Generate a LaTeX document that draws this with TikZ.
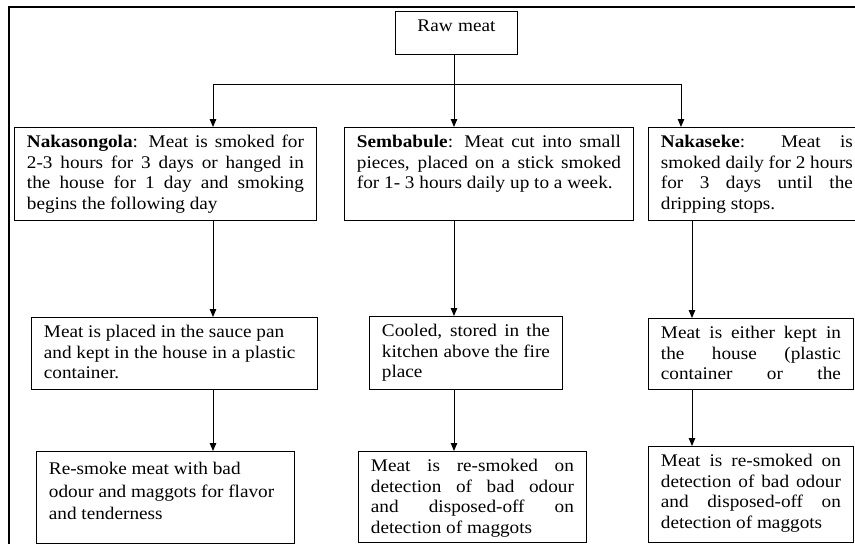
\documentclass[tikz,border=0pt]{standalone}
\usepackage{fontspec}
\setmainfont{Liberation Serif}[FakeStretch=1.08]
\usetikzlibrary{arrows.meta}
\newcommand{\fullline}[1]{\makebox[\linewidth][s]{#1}}

\begin{document}
\begin{tikzpicture}[
      x=1pt, y=-1pt,
      box/.style={rectangle, draw=black, line width=0.9pt, anchor=north west, inner xsep=12.5pt, inner ysep=5pt, text height=15.5pt, align=left, font=\fontsize{17.8}{20.5}\selectfont, execute at begin node={\spaceskip=0pt\xspaceskip=0pt}},
      loose/.style={font=\fontsize{17.8}{22.7}\selectfont, text height=18pt},
      arrow/.style={-{Triangle[length=8pt, width=6.5pt]}, line width=1pt, black},
      frame/.style={line width=2.4pt, black}
    ]
    \useasboundingbox (0,0) rectangle (855,544);
    \draw[frame] (9,560) |- (870,7);

    \node[box, align=center, text width=97pt, text depth=17.5pt] (raw) at (395,11) {Raw meat};

    \node[box, text width=277pt, text depth=67.5pt] (A1) at (14,127) {\fullline{\textbf{Nakasongola}: Meat is smoked for}\\\fullline{2-3 hours for 3 days or hanged in}\\\fullline{the house for 1 day and smoking}\\begins the following day};
    \node[box, text width=264pt, text depth=67.5pt] (B1) at (344,127) {\fullline{\textbf{Sembabule}: Meat cut into small}\\\fullline{pieces, placed on a stick smoked}\\for 1- 3 hours daily up to a week.};
    \node[box, text width=192pt, text depth=67.5pt] (C1) at (648,127) {\fullline{\textbf{Nakaseke}: Meat is}\\\fullline{smoked daily for 2 hours}\\\fullline{for 3 days until the}\\dripping stops.};

    \node[box, text width=261pt, text depth=46.5pt] (A2) at (31,317) {Meat is placed in the sauce pan\\and kept in the house in a plastic\\container.};
    \node[box, text width=168pt, text depth=47.5pt] (B2) at (369,316) {\fullline{Cooled, stored in the}\\\fullline{kitchen above the fire}\\place};
    \node[box, text width=180pt, text depth=45.5pt] (C2) at (648,318) {\fullline{Meat is either kept in}\\\fullline{the house (plastic}\\\fullline{container or the}};

    \node[box, loose, text width=233pt, text depth=64pt] (A3) at (36,451) {Re-smoke meat with bad\\odour and maggots for flavor\\and tenderness};
    \node[box, text width=203pt, text depth=65.5pt] (B3) at (358,451) {\fullline{Meat is re-smoked on}\\\fullline{detection of bad odour}\\\fullline{and disposed-off on}\\detection of maggots};
    \node[box, text width=180pt, text depth=70.5pt] (C3) at (648,446) {\fullline{Meat is re-smoked on}\\\fullline{detection of bad odour}\\\fullline{and disposed-off on}\\detection of maggots};

    \coordinate (barA) at (213,84);
    \coordinate (barC) at (681,84);
    \coordinate (colB) at (454,0);
    \coordinate (colC) at (692,0);

    \draw[arrow] (raw.south -| colB) -- (B1.north -| colB);
    \draw[arrow] (barC) -- (barA) -- (A1.north -| barA);
    \draw[arrow] (barC) -- (C1.north -| barC);
    \draw[arrow] (A1.south -| barA) -- (A2.north -| barA);
    \draw[arrow] (A2.south -| barA) -- (A3.north -| barA);
    \draw[arrow] (B1.south -| colB) -- (B2.north -| colB);
    \draw[arrow] (B2.south -| colB) -- (B3.north -| colB);
    \draw[arrow] (C1.south -| colC) -- (C2.north -| colC);
    \draw[arrow] (C2.south -| colC) -- (C3.north -| colC);
  \end{tikzpicture}
\end{document}
